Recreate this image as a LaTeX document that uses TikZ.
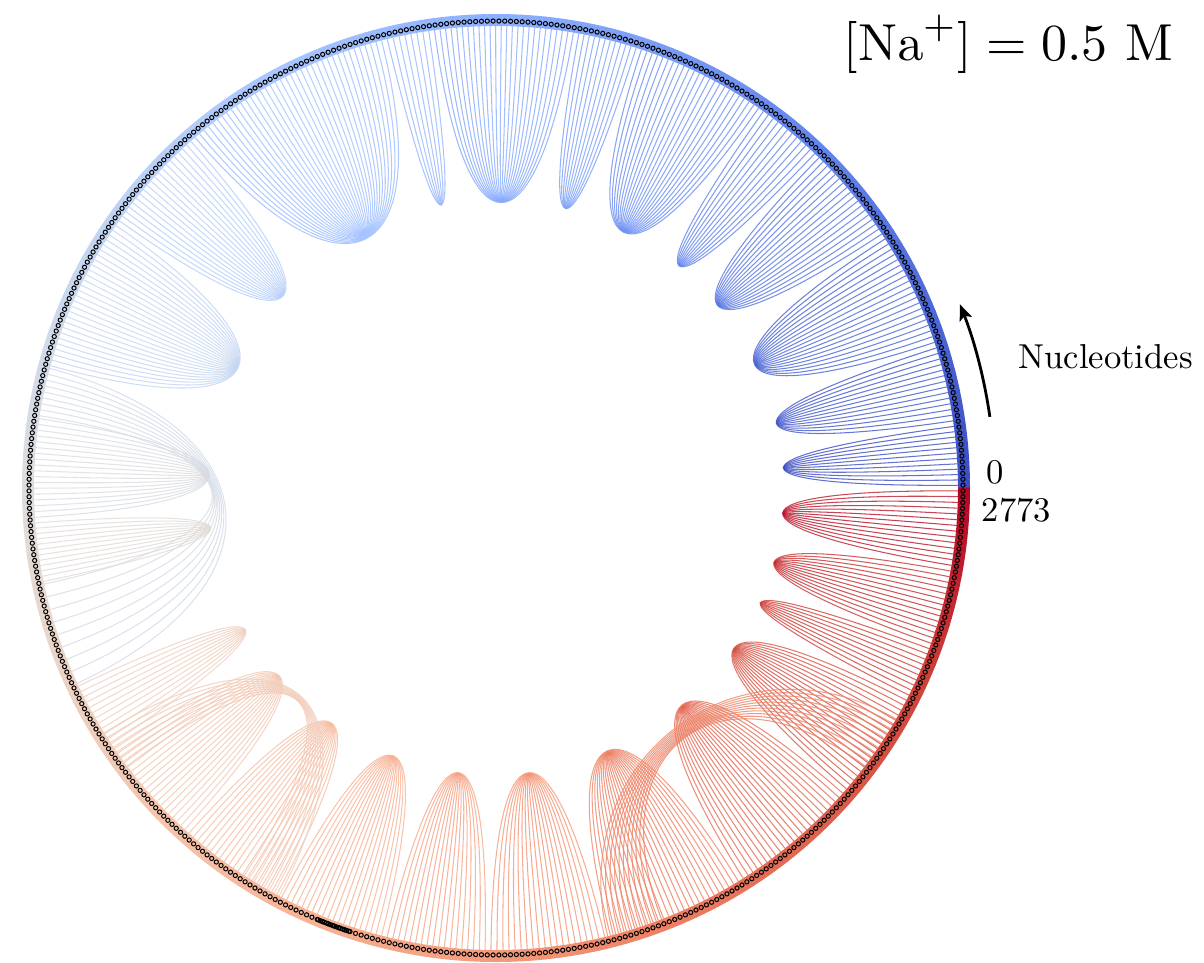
\documentclass[tikz,border=0pt]{standalone}
\usetikzlibrary{arrows.meta}
% coolwarm colormap (17 samples)
\newcommand\setcw[1]{%
  \pgfmathsetmacro\cws{max(0,min(15.9999,16*(#1)))}%
  \pgfmathtruncatemacro\cwi{floor(\cws)}%
  \pgfmathsetmacro\cwf{\cws-\cwi}%
  \pgfmathtruncatemacro\cwj{\cwi+1}%
  \pgfmathsetmacro\ra{{59,77,98,119,141,163,184,204,221,236,245,247,244,236,222,203,180}[\cwi]}%
  \pgfmathsetmacro\rb{{59,77,98,119,141,163,184,204,221,236,245,247,244,236,222,203,180}[\cwj]}%
  \pgfmathsetmacro\ga{{76,104,130,154,176,194,208,217,221,211,196,177,154,127,96,62,4}[\cwi]}%
  \pgfmathsetmacro\gb{{76,104,130,154,176,194,208,217,221,211,196,177,154,127,96,62,4}[\cwj]}%
  \pgfmathsetmacro\ba{{192,215,234,247,254,255,249,238,221,197,172,148,123,99,77,56,38}[\cwi]}%
  \pgfmathsetmacro\bb{{192,215,234,247,254,255,249,238,221,197,172,148,123,99,77,56,38}[\cwj]}%
  \pgfmathtruncatemacro\cwr{round(\ra+(\rb-\ra)*\cwf)}%
  \pgfmathtruncatemacro\cwg{round(\ga+(\gb-\ga)*\cwf)}%
  \pgfmathtruncatemacro\cwb{round(\ba+(\bb-\ba)*\cwf)}%
  \definecolor{cc}{RGB}{\cwr,\cwg,\cwb}}
% chord from angle #1 to angle #2, control points at radius #3
\newcommand\chordk[3]{%
  \setcw{(#1)/360}%
  \draw[chordline] (#1:462) .. controls (#1:#3) and (#2:#3) .. (#2:462);}
\newcommand\hp[2]{%
  \pgfmathtruncatemacro\hpn{max(1,round((#2-#1)/1.43))}%
  \pgfmathsetmacro\hpd{(#2-#1)/(2*\hpn)}%
  \foreach \k in {1,...,\hpn}{%
    \pgfmathsetmacro\ca{#1+(\k-0.5)*\hpd}%
    \pgfmathsetmacro\cb{#2-(\k-0.5)*\hpd}%
    \chordk{\ca}{\cb}{231}}}
% stem: arm #1..#2 paired with #3..#4, #5 chords, control radius #6
\newcommand\stemarm[6]{%
  \pgfmathtruncatemacro\stm{#5-1}%
  \foreach \k in {0,...,\stm}{%
    \pgfmathsetmacro\ca{#1+\k*(#2-#1)/\stm}%
    \pgfmathsetmacro\cb{#4-\k*(#4-#3)/\stm}%
    \chordk{\ca}{\cb}{#6}}}
\tikzset{
  chordline/.style={draw=cc, line width=1.05pt, opacity=0.8},
  ringseg/.style={draw=cc, line width=12pt},
  bead/.style={draw=black, line width=1pt},
  lab/.style={font=\fontsize{10}{12}\selectfont, inner sep=0pt, scale=3.46, transform shape},
}
\begin{document}
\begin{tikzpicture}[x=1pt,y=1pt]
\useasboundingbox (0,-962) rectangle (1204,0);
\begin{scope}[shift={(496,-488)}]
  % chords
  \hp{0}{8}\hp{8}{18}\hp{18}{33}\hp{33}{46}\hp{46}{55}\hp{55}{72}
  \hp{72}{80}\hp{80}{98}\hp{98}{104}\hp{104}{131}\hp{131}{145}\hp{145}{165}
  \stemarm{165}{171}{192}{205}{9}{231}\hp{171}{184}\hp{184}{192}
  \hp{205}{214}\hp{214}{228}\hp{228}{242}\hp{242}{256}\hp{256}{269}
  \hp{269}{284}\hp{284}{302}\hp{302}{319}\hp{319}{333}\hp{333}{340}
  \hp{340}{350}\hp{350}{360}
  % long-range bundles
  \stemarm{212}{217}{237}{242}{8}{240}
  \stemarm{284}{291}{323}{330}{11}{280}
  % ring
  \foreach \i in {0,...,359}{%
    \setcw{(\i+0.5)/360}%
    \draw[ringseg] (\i:468) arc[start angle=\i, end angle=\i+1.05, radius=468];}
  % beads
  \foreach \i in {0,...,503}{%
    \pgfmathsetmacro\bt{(\i+0.5)*0.7142857}%
    \draw[bead] (\bt:467) circle[radius=2.1];}
  \foreach \i in {0,...,15}{%
    \draw[bead] ({247.6+\i*0.27}:467) circle[radius=2.1];}
  % arrow
  \coordinate (arrS) at (8.2:499);
  \draw[line width=2.8pt, -{Stealth[length=16pt,width=13pt,inset=3.5pt]}]
    (arrS) arc[start angle=8.2, end angle=21.6, radius=499];
\end{scope}
\node[lab, anchor=base west] (nuc) at (1018,-368) {Nucleotides};
\node[lab, anchor=base west] (zero) at (986,-483.5) {0};
\node[lab, anchor=base west] (last) at (981,-521.7) {2773};
\node[anchor=base east, inner sep=0pt, font=\fontsize{10}{12}\selectfont, scale=5.2, transform shape] (title) at (1174,-60)
  {$[\mathrm{Na}^{+}] = 0.5\ \mathrm{M}$};
\end{tikzpicture}
\end{document}
